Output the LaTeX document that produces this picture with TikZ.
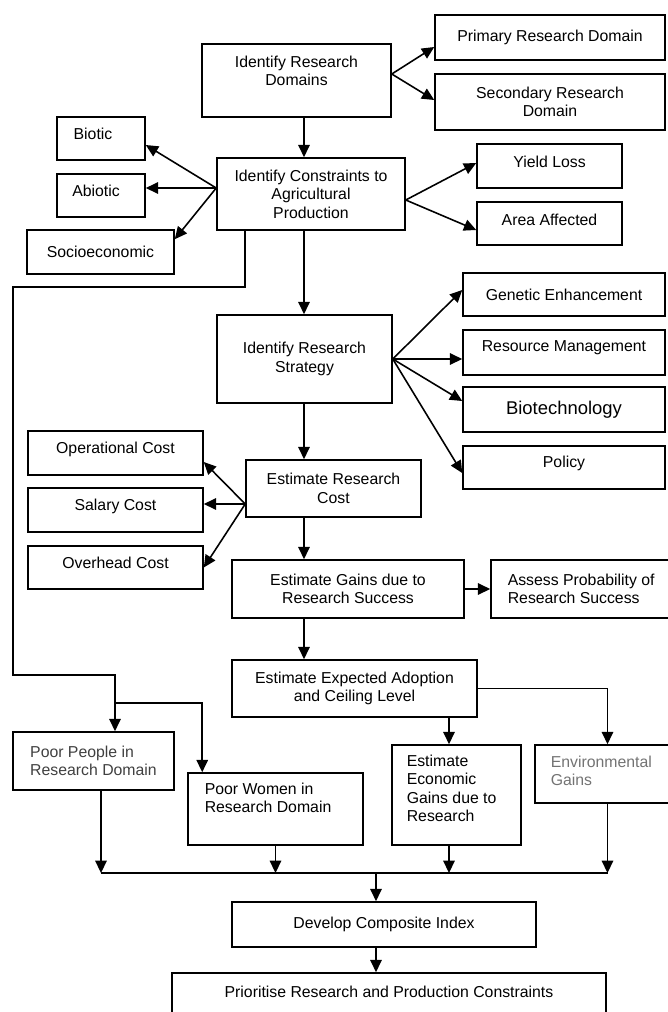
\documentclass[tikz,border=0pt]{standalone}
\usepackage{fontspec}
\setmainfont{Liberation Sans}
\usetikzlibrary{arrows.meta}

\begin{document}
\begin{tikzpicture}[x=0.02cm, y=-0.02cm, >={Triangle[length=7pt,width=6.5pt]}, line width=0.9pt,
    blk/.style={draw, rectangle, inner sep=0pt, align=center, font=\fontsize{9}{10.5}\selectfont},
    txt/.style={inner sep=0pt, align=left, font=\fontsize{9}{10.5}\selectfont}]

    \useasboundingbox (0,0) rectangle (668,1012);
    \clip (0,0) rectangle (668,1012);

    % Research domains
    \node[blk, minimum width=3.78cm, minimum height=1.46cm] (ird) at (296.5,80.5) {};
    \node[txt, align=center] (irdtext) at (296.5,71) {Identify Research\\Domains};
    \node[blk, minimum width=4.6cm, minimum height=0.9cm] (prd) at (550,37.5) {Primary Research Domain};
    \node[blk, minimum width=4.6cm, minimum height=1.12cm] (srd) at (550,102) {Secondary Research\\Domain};

    % Constraints
    \node[blk, minimum width=3.76cm, minimum height=1.44cm] (icap) at (311,194) {Identify Constraints to\\Agricultural\\Production};
    \node[blk, minimum width=1.76cm, minimum height=0.86cm] (biotic) at (101,138.5) {};
    \node[txt] (biotictext) at (93,134) {Biotic};
    \node[blk, minimum width=1.76cm, minimum height=0.86cm] (abiotic) at (101,195.5) {};
    \node[txt] (abiotictext) at (96,191) {Abiotic};
    \node[blk, minimum width=2.94cm, minimum height=0.88cm] (socio) at (100.5,252) {Socioeconomic};
    \node[blk, minimum width=2.9cm, minimum height=0.88cm] (yield) at (549.5,166) {};
    \node[txt] (yieldtext) at (549.5,162) {Yield Loss};
    \node[blk, minimum width=2.9cm, minimum height=0.86cm] (area) at (549.5,223.5) {};
    \node[txt] (areatext) at (549.5,220) {Area Affected};

    % Strategy
    \node[blk, minimum width=3.5cm, minimum height=1.76cm] (irs) at (304.5,359) {Identify Research\\Strategy};
    \node[blk, minimum width=4.04cm, minimum height=0.86cm] (ge) at (564,294.5) {Genetic Enhancement};
    \node[blk, minimum width=4.04cm, minimum height=0.9cm] (rm) at (564,352.5) {};
    \node[txt] (rmtext) at (564,348) {Resource Management};
    \node[blk, minimum width=4.04cm, minimum height=0.9cm, font=\fontsize{10.5}{12}\selectfont] (bt) at (564,409.5) {Biotechnology};
    \node[blk, minimum width=4.04cm, minimum height=0.86cm] (pol) at (564,467.5) {};
    \node[txt] (poltext) at (564,463) {Policy};

    % Cost
    \node[blk, minimum width=3.5cm, minimum height=1.14cm] (erc) at (333.5,488.5) {Estimate Research\\Cost};
    \node[blk, minimum width=3.5cm, minimum height=0.88cm] (op) at (115.5,453) {};
    \node[txt] (optext) at (115.5,449) {Operational Cost};
    \node[blk, minimum width=3.5cm, minimum height=0.88cm] (sal) at (115.5,510) {};
    \node[txt] (saltext) at (115.5,506) {Salary Cost};
    \node[blk, minimum width=3.5cm, minimum height=0.86cm] (ovh) at (115.5,567.5) {};
    \node[txt] (ovhtext) at (115.5,563) {Overhead Cost};

    % Gains and adoption
    \node[blk, minimum width=4.64cm, minimum height=1.16cm] (egrs) at (348,589) {Estimate Gains due to\\Research Success};
    \node[blk, minimum width=3.88cm, minimum height=1.16cm] (aprs) at (588,589) {};
    \node[txt, anchor=west] (aprstext) at (507,589) {Assess Probability of\\Research Success};
    \node[blk, minimum width=4.9cm, minimum height=1.14cm] (eeacl) at (354.5,688.5) {Estimate Expected Adoption\\and Ceiling Level};

    % Lower row
    \node[blk, align=left, minimum width=3.22cm, minimum height=1.16cm, text=black!75] (ppl) at (93.5,761) {Poor People in\\Research Domain};
    \node[blk, minimum width=3.5cm, minimum height=1.44cm] (pwm) at (275.5,809) {};
    \node[txt, anchor=north west] (pwmtext) at (204,782) {Poor Women in\\Research Domain};
    \node[blk, minimum width=2.58cm, minimum height=2cm] (eeg) at (456.5,795) {};
    \node[txt, anchor=north west] (eegtext) at (406,754) {Estimate\\Economic\\Gains due to\\Research};
    \node[blk, minimum width=2.9cm, minimum height=1.16cm] (env) at (607.5,774) {};
    \node[txt, anchor=west, text=black!55] (envtext) at (550,771) {Environmental\\Gains};

    % Index and priorities
    \node[blk, minimum width=6.08cm, minimum height=0.9cm] (dci) at (384,924.5) {Develop Composite Index};
    \node[blk, minimum width=8.68cm, minimum height=1.14cm] (prc) at (389,1001.5) {};
    \node[txt, align=center] (prctext) at (389,992) {Prioritise Research and Production Constraints};

    % Connector points
    \coordinate (spine) at (304,117);
    \coordinate (irdR) at ([yshift=0.13cm]ird.east);
    \coordinate (icapL) at ([yshift=0.12cm]icap.west);
    \coordinate (icapR) at ([yshift=-0.12cm]icap.east);
    \coordinate (ercL) at ([yshift=-0.31cm]erc.west);
    \coordinate (loopL) at (13,287);
    \coordinate (loopB) at (13,675);
    \coordinate (split) at (115,703);
    \coordinate (bus) at (376,873);

    % Main column
    \draw[->] (ird.south -| spine) -- (icap.north -| spine);
    \draw[->] (icap.south -| spine) -- (irs.north -| spine);
    \draw[->] (irs.south -| spine) -- (erc.north -| spine);
    \draw[->] (erc.south -| spine) -- (egrs.north -| spine);
    \draw[->] (egrs.south -| spine) -- (eeacl.north -| spine);

    % Fan-outs
    \draw[->] (irdR) -- ([yshift=-0.19cm]prd.west);
    \draw[->] (irdR) -- ([yshift=0.04cm]srd.west);
    \draw[->] (icapL) -- ([yshift=-0.13cm]biotic.east);
    \draw[->] (icapL) -- (icapL -| abiotic.east);
    \draw[->] (icapL) -- ([yshift=-0.2cm]socio.north east);
    \draw[->] (icapR) -- ([yshift=0.06cm]yield.west);
    \draw[->] (icapR) -- ([yshift=-0.13cm]area.west);
    \draw[->] (irs.east) -- ([yshift=0.09cm]ge.west);
    \draw[->] (irs.east) -- (irs.east -| rm.west);
    \draw[->] (irs.east) -- ([yshift=0.17cm]bt.west);
    \draw[->] (irs.east) -- ([yshift=-0.11cm]pol.west);
    \draw[->] (ercL) -- ([yshift=-0.18cm]op.east);
    \draw[->] (ercL) -- (ercL -| sal.east);
    \draw[->] (ercL) -- (ovh.east);
    \draw[->] (egrs.east) -- (egrs.east -| aprs.west);

    % Poverty loop
    \draw[->] ([xshift=0.58cm]icap.south west) |- (loopL) -- (loopB) -| ([xshift=0.43cm]ppl.north);
    \draw[->] (split) -| ([xshift=0.3cm]pwm.north west);

    % Adoption outputs
    \draw[->] ([xshift=-0.15cm]eeg.north |- eeacl.south) -- ([xshift=-0.15cm]eeg.north);
    \draw[->] (eeacl.east) -| (env.north);

    % Collecting bus
    \draw[->] ([xshift=0.15cm]ppl.south) -- ([xshift=0.15cm]ppl.south |- bus);
    \draw[->] (pwm.south) -- (pwm.south |- bus);
    \draw[->] ([xshift=-0.15cm]eeg.south) -- ([xshift=-0.15cm]eeg.south |- bus);
    \draw[->] (env.south) -- (env.south |- bus);
    \draw ([xshift=0.15cm]ppl.south |- bus) -- (env.south |- bus);
    \draw[->] (bus) -- (bus |- dci.north);
    \draw[->] (bus |- dci.south) -- (bus |- prc.north);

\end{tikzpicture}
\end{document}
